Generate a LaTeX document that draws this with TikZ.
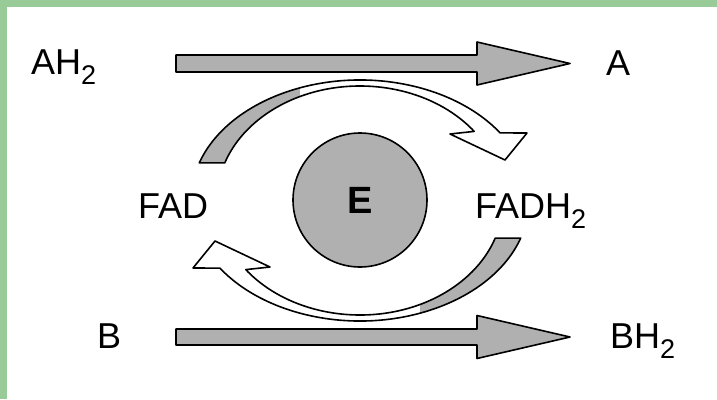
\documentclass[tikz,border=0pt]{standalone}
\usepackage{fontspec}
\setmainfont{Liberation Sans}
\usetikzlibrary{calc}
\definecolor{framegreen}{RGB}{152,203,152}
\definecolor{fillgray}{RGB}{176,176,176}
\newcommand\subtwo{\raisebox{-10pt}{\fontsize{27}{30}\selectfont 2}}
\def\bandpath{($(360,200)+({169*cos(198)},{120*sin(198)})$) arc[start angle=198, end angle=326, x radius=169, y radius=120] -- (527,133) -- (505,160) -- (450,134) -- ($(360,200)+({143*cos(323)},{114*sin(323)})$) arc[start angle=323, end angle=199, x radius=143, y radius=114] -- cycle}
\begin{document}
\begin{tikzpicture}[x=1pt,y=-1pt,
  lbl/.style={inner sep=0pt, anchor=base west, font=\fontsize{36}{40}\selectfont},
  outline/.style={draw=black, line width=1.6pt, line join=round},
  flatarrow/.style={outline, fill=fillgray}]
\useasboundingbox (0,0) rectangle (717,399);
\fill[framegreen] (0,0) rectangle (717,399);
\fill[white] (7,7) rectangle (717,399);

% labels
\node[lbl] (ah2) at (31,74) {AH\subtwo};
\node[lbl] (a) at (606,75) {A};
\node[lbl] (fad) at (138,218) {FAD};
\node[lbl] (fadh2) at (475,218) {FADH\subtwo};
\node[lbl] (b) at (97,348) {B};
\node[lbl] (bh2) at (610,348) {BH\subtwo};

% enzyme
\node[circle, outline, fill=fillgray, minimum size=134pt, inner sep=0pt,
  font=\fontsize{38}{42}\selectfont\bfseries] (e) at (360,200) {E};

% straight arrows
\coordinate (t1) at (176,63.5);
\coordinate (t2) at (570,63.5);
\draw[flatarrow] ($(t1)+(0,-8.5)$) -- ($(t2)+(-93,-8.5)$) -- ($(t2)+(-93,-21.5)$) -- (t2)
  -- ($(t2)+(-93,21.5)$) -- ($(t2)+(-93,8.5)$) -- ($(t1)+(0,8.5)$) -- cycle;
\coordinate (b1) at (176,337);
\coordinate (b2) at (570,337);
\draw[flatarrow] ($(b1)+(0,-8)$) -- ($(b2)+(-93,-8)$) -- ($(b2)+(-93,-21.5)$) -- (b2)
  -- ($(b2)+(-93,21.5)$) -- ($(b2)+(-93,8)$) -- ($(b1)+(0,8)$) -- cycle;

% curved arrows
\begin{scope}
  \fill[white] \bandpath;
  \begin{scope}
    \clip \bandpath;
    \fill[fillgray] (150,60) rectangle (300,170);
  \end{scope}
  \draw[outline] \bandpath;
\end{scope}
\begin{scope}[rotate around={180:(360,200.5)}]
  \fill[white] \bandpath;
  \begin{scope}
    \clip \bandpath;
    \fill[fillgray] (150,60) rectangle (300,170);
  \end{scope}
  \draw[outline] \bandpath;
\end{scope}
\end{tikzpicture}
\end{document}
